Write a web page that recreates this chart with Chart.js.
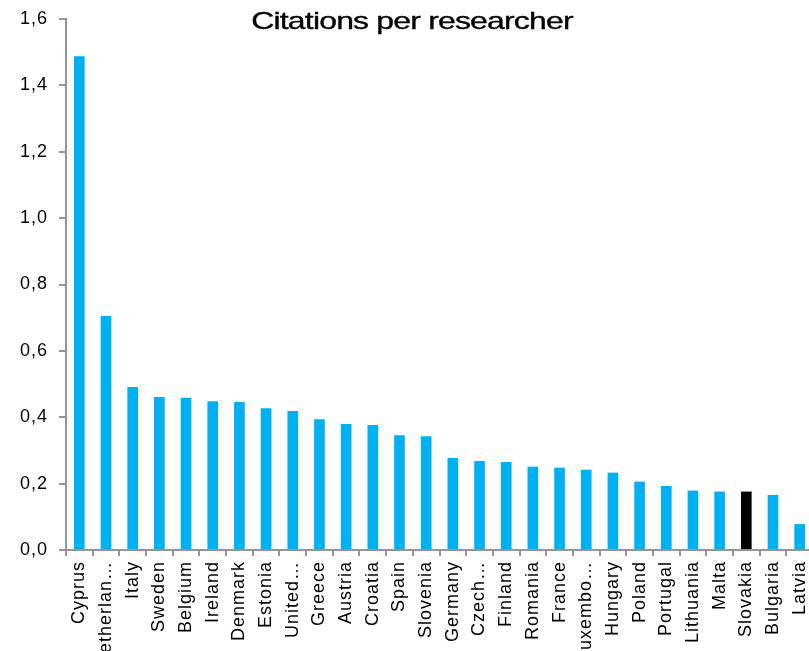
<!DOCTYPE html>
<html>
<head>
<meta charset="utf-8">
<script src="https://cdn.jsdelivr.net/npm/chart.js@4.4.1/dist/chart.umd.min.js"></script>
<style>
    html, body { margin: 0; padding: 0; background: #fff; overflow: hidden; }
    #wrap { position: relative; width: 813px; height: 651px; }
    #title {
        position: absolute; left: 0; width: 824px; top: 9px;
        text-align: center; font: 24px "Liberation Sans", Arial, sans-serif;
        line-height: 24px; color: #000; letter-spacing: -0.6px;
        -webkit-text-stroke: 0.35px #000;
        transform: scaleX(1.33); transform-origin: 412px 0;
    }
</style>
</head>
<body>
<div id="wrap">
    <canvas id="citationsChart"></canvas>
    <div id="title">Citations per researcher</div>
</div>
<script>
// Citas por investigador, ordenado de mayor a menor
const countries = ['Cyprus', 'Netherlan…', 'Italy', 'Sweden', 'Belgium', 'Ireland', 'Denmark', 'Estonia',
    'United…', 'Greece', 'Austria', 'Croatia', 'Spain', 'Slovenia', 'Germany', 'Czech…', 'Finland',
    'Romania', 'France', 'Luxembo…', 'Hungary', 'Poland', 'Portugal', 'Lithuania', 'Malta', 'Slovakia',
    'Bulgaria', 'Latvia'];
const citations = [1.488, 0.705, 0.491, 0.461, 0.459, 0.448, 0.446, 0.427, 0.419, 0.394, 0.380, 0.377,
    0.346, 0.343, 0.277, 0.268, 0.265, 0.251, 0.248, 0.242, 0.233, 0.206, 0.193, 0.179, 0.176, 0.176,
    0.166, 0.078];
const yTicks = [0, 0.2, 0.4, 0.6, 0.8, 1.0, 1.2, 1.4, 1.6];
const highlightCountry = 'Slovakia';

const barColors = countries.map(c => c === highlightCountry ? '#000000' : '#00b0f0');
const axisGrey = '#959595';
const tickFont = { family: '"Liberation Sans", Arial, sans-serif', size: 18 };

// letras algo más abiertas en las etiquetas de los ejes
const wideText = {
    id: 'wideText',
    beforeDraw(chart) { chart.ctx.letterSpacing = '1px'; }
};

new Chart(document.getElementById('citationsChart'), {
    type: 'bar',
    data: {
        labels: countries,
        datasets: [{
            data: citations,
            backgroundColor: barColors,
            barPercentage: 0.4,
            categoryPercentage: 1.0
        }]
    },
    options: {
        responsive: true,
        maintainAspectRatio: false,
        animation: false,
        layout: { padding: { top: 19, right: 0, bottom: 0, left: 0 } },
        plugins: { legend: { display: false }, tooltip: { enabled: false } },
        scales: {
            x: {
                offset: true,
                grid: { offset: true, drawOnChartArea: false, drawTicks: true, tickLength: 6, color: axisGrey, lineWidth: 2 },
                border: { display: true, color: axisGrey, width: 2 },
                ticks: { color: '#000', font: tickFont, minRotation: 90, maxRotation: 90, autoSkip: false, padding: 5 },
                afterFit: scale => {
                    scale.height = 101;
                    scale.paddingLeft = 0;
                    scale.paddingRight = 0;
                }
            },
            y: {
                min: 0,
                max: 1.6,
                afterBuildTicks: scale => { scale.ticks = yTicks.map(v => ({ value: v })); },
                grid: { drawOnChartArea: false, drawTicks: true, tickLength: 7, color: axisGrey, lineWidth: 2 },
                border: { display: true, color: axisGrey, width: 2 },
                ticks: {
                    color: '#000', font: tickFont, padding: 11,
                    callback: v => v.toFixed(1).replace('.', ',')
                },
                afterFit: scale => {
                    scale.width = 66;
                    scale.paddingTop = 0;
                    scale.paddingBottom = 0;
                }
            }
        }
    },
    plugins: [wideText]
});
</script>
</body>
</html>
